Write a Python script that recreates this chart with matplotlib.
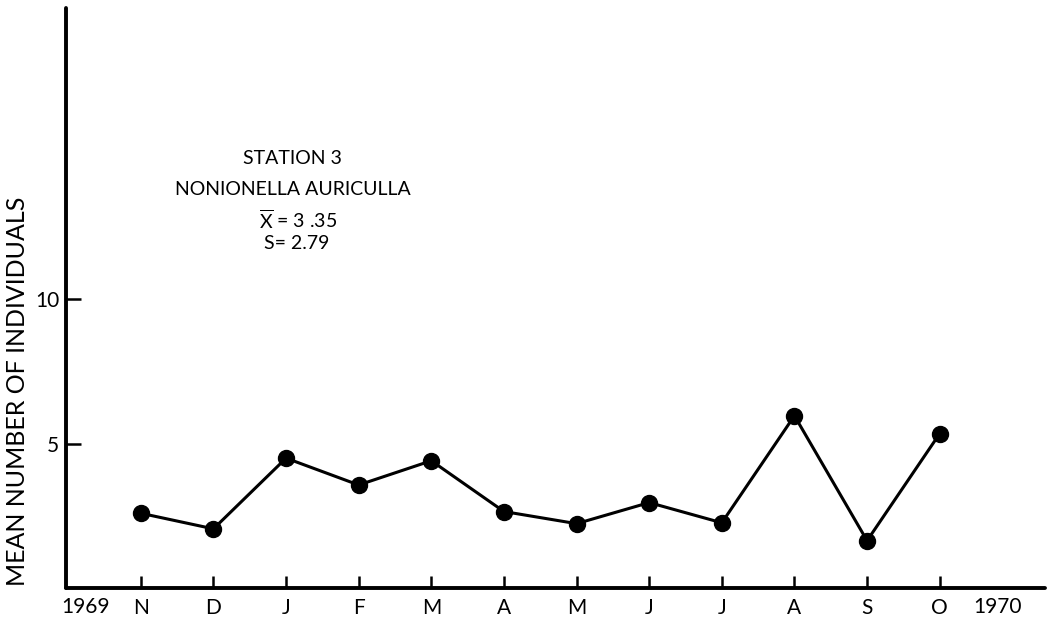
import matplotlib
matplotlib.use("Agg")
import matplotlib.pyplot as plt

# Monthly mean counts, Nov 1969 - Oct 1970
months = ["N", "D", "J", "F", "M", "A", "M", "J", "J", "A", "S", "O"]
mean_counts = [2.59, 2.05, 4.50, 3.57, 4.41, 2.65, 2.23, 2.96, 2.26, 5.97, 1.64, 5.35]
y_ticks = [5, 10]
y_tick_labels = ["5", "10"]
title_lines = ["STATION 3", "NONIONELLA AURICULLA"]
mean_text = r"$\overline{\mathrm{X}}$ = 3 .35"
sd_text = "S= 2.79"
y_label = "MEAN NUMBER OF INDIVIDUALS"
start_year = "1969"
end_year = "1970"

plt.rcParams["font.family"] = ["Lato", "DejaVu Sans"]
plt.rcParams["mathtext.fontset"] = "custom"
plt.rcParams["mathtext.rm"] = "Lato"

fig = plt.figure(figsize=(10.58, 6.24), dpi=100)
ax = fig.add_axes([66 / 1058, 36 / 624, (1045 - 66) / 1058, (588 - 8) / 624])

x = list(range(len(months)))
ax.plot(x, mean_counts, color="black", lw=2.2, marker="o", ms=11.5,
        markerfacecolor="black", markeredgecolor="black", zorder=3)

ax.set_xlim(-1.03, 12.45)
ax.set_ylim(0, 20.1)

for side in ("top", "right"):
    ax.spines[side].set_visible(False)
for side in ("left", "bottom"):
    ax.spines[side].set_linewidth(2.8)
    ax.spines[side].set_color("black")
    ax.spines[side].set_capstyle("round")

ax.set_xticks(x)
ax.set_xticklabels(months, fontsize=15)
ax.set_yticks(y_ticks)
ax.set_yticklabels(y_tick_labels, fontsize=15)
ax.tick_params(axis="x", direction="in", length=9, width=1.8, pad=7)
ax.tick_params(axis="y", direction="in", length=11, width=1.8, pad=5)

fig.text(18 / 1058, 1 - 391 / 624, y_label, fontsize=18, rotation=90,
         ha="center", va="center")

# year markers at either end of the time axis
ax.text(-0.76, -0.32, start_year, fontsize=15, ha="center", va="top")
ax.text(11.8, -0.32, end_year, fontsize=15, ha="center", va="top")

# station annotation block
ax.text(2.09, 14.9, title_lines[0], fontsize=14, ha="center", va="center")
ax.text(2.09, 13.8, title_lines[1], fontsize=14, ha="center", va="center")
ax.text(2.17, 12.75, mean_text, fontsize=14, ha="center", va="center")
ax.text(2.15, 11.95, sd_text, fontsize=14, ha="center", va="center")

fig.savefig("out.png", dpi=100, facecolor="white")
